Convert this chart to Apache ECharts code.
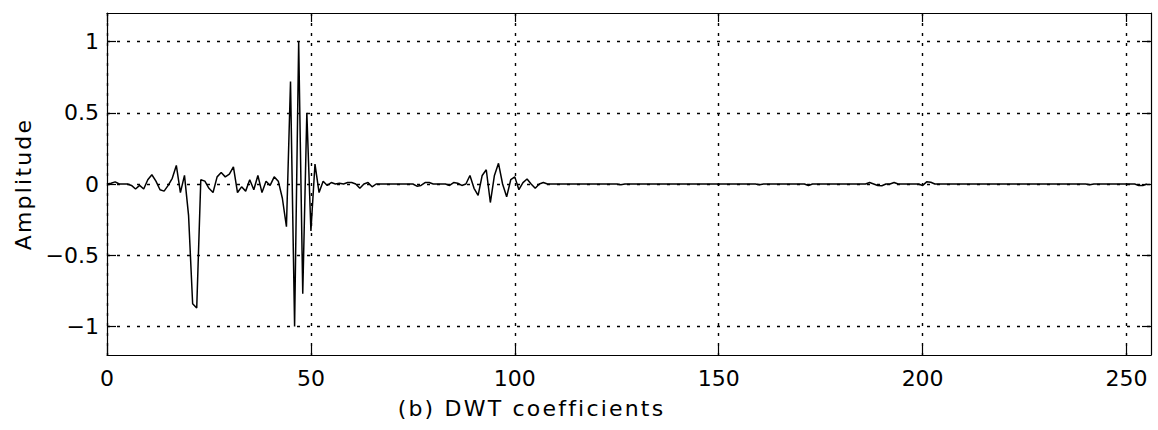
<!DOCTYPE html>
<html><head><meta charset="utf-8">
<script src="https://cdn.jsdelivr.net/npm/echarts@6/dist/echarts.min.js"></script>
<style>
html,body{margin:0;padding:0;background:#fff;}
#chart{width:1158px;height:430px;}
#chart svg text[style*="sans-serif"]{letter-spacing:2.2px;}
</style></head><body><div id="chart"></div>
<script>
// DWT coefficient amplitudes, index 0..255
const amplitude = [
  0, 0.005, 0.015, 0, 0, 0, -0.01, -0.035, -0.01, -0.035, 0.03, 0.065, 0.02, -0.04, -0.05, -0.01,
  0.04, 0.13, -0.06, 0.06, -0.22, -0.84, -0.87, 0.03, 0.02, -0.03, -0.06, 0.05, 0.08, 0.05, 0.07, 0.12,
  -0.06, -0.02, -0.05, 0.03, -0.04, 0.06, -0.06, 0.02, -0.01, 0.05, 0.02, -0.1, -0.3, 0.72, -1.0, 1.0,
  -0.77, 0.5, -0.33, 0.14, -0.06, 0.02, -0.01, 0.01, 0, 0.005, 0, 0.01, 0.01, 0, -0.03, 0,
  0.01, -0.02, 0, 0, 0, 0, 0, 0, 0, 0, 0, 0, -0.015, -0.01, 0.01, 0.01,
  0, 0, 0, 0, -0.01, 0.01, 0.005, -0.01, 0, 0.06, -0.03, -0.08, 0.06, 0.1, -0.13, 0.06,
  0.145, 0, -0.09, 0.03, 0.05, -0.04, 0.01, 0.035, 0, -0.03, 0, 0.01, 0, 0, 0, 0,
  0, 0, 0, 0, 0, 0, 0, 0, 0, 0, 0, 0, 0, 0, -0.005, 0,
  0, 0, 0, 0, 0, 0, 0, 0, 0, 0, 0, 0, 0, 0, 0, 0,
  0, 0, 0, 0, 0, 0, 0, 0, 0, 0, 0, 0, 0, 0, 0, 0,
  -0.005, 0, 0, 0, 0, 0, 0, 0, 0, 0, 0, 0, -0.01, 0, 0, 0,
  0, 0, 0, 0, 0, 0, 0, 0, 0, 0, 0, 0.01, 0, -0.01, -0.012, 0,
  0, 0.01, 0, 0, 0, 0, 0, 0, -0.01, 0.015, 0.012, 0, 0, 0, 0, 0,
  0, 0, 0, 0, 0, 0, 0, 0, 0, 0, 0, 0, 0, 0, 0, 0,
  0, 0, 0, 0, 0, 0, 0, 0, 0, 0, 0, 0, 0, 0, 0, 0,
  0, -0.006, 0, 0, 0, 0, 0, 0, 0, 0, 0, 0, 0, -0.01, -0.01, 0
];
const xTickValues = [0, 50, 100, 150, 200, 250];
const xTickLabels = ['0', '50', '100', '150', '200', '250'];
const yTickValues = [-1, -0.5, 0, 0.5, 1];
const yTickLabels = ['\u22121', '\u22120.5', '0', '0.5', '1'];
const xRange = [0, 256];
const yRange = [-1.2, 1.2];
const xTitle = '(b) DWT coefficients';
const yTitle = 'Amplitude';

const seriesData = amplitude.map((v, i) => [i, v]);
const black = '#000';
const tickFont = 'DejaVu Sans';
const nameFont = 'DejaVu Sans, sans-serif';

function labelFor(values, labels) {
  return function (v) {
    for (let k = 0; k < values.length; k++) {
      if (Math.abs(values[k] - v) < 1e-9) return labels[k];
    }
    return '';
  };
}

const frameLine = {show: true, onZero: false, lineStyle: {color: black, width: 1.2}};
function ticks(values) {
  return {show: true, inside: true, length: 9, customValues: values, lineStyle: {color: black, width: 1.2}};
}

const chart = echarts.init(document.getElementById('chart'), null, {renderer: 'svg'});
chart.setOption({
  animation: false,
  backgroundColor: '#fff',
  grid: {left: 107, right: 7, top: 13, bottom: 75, containLabel: false, outerBoundsMode: 'none'},
  xAxis: [{
    type: 'value', position: 'bottom', min: xRange[0], max: xRange[1],
    axisLine: frameLine,
    axisTick: ticks(xTickValues),
    axisLabel: {show: true, customValues: xTickValues, margin: 12, fontSize: 22, fontFamily: tickFont, color: black,
      formatter: labelFor(xTickValues, xTickLabels)},
    splitLine: {show: true, lineStyle: {color: black, width: 1.4, type: [3, 7]}},
    name: xTitle, nameLocation: 'middle', nameGap: 42,
    nameTextStyle: {fontSize: 22, fontFamily: nameFont, color: black, padding: [0, 195, 0, 0]}
  }, {
    type: 'value', position: 'top', min: xRange[0], max: xRange[1],
    axisLine: frameLine,
    axisTick: ticks(xTickValues),
    axisLabel: {show: false},
    splitLine: {show: false}
  }],
  yAxis: [{
    type: 'value', position: 'left', min: yRange[0], max: yRange[1],
    axisLine: frameLine,
    axisTick: ticks(yTickValues),
    axisLabel: {show: true, customValues: yTickValues, margin: 8, fontSize: 22, fontFamily: tickFont, color: black,
      formatter: labelFor(yTickValues, yTickLabels)},
    splitLine: {show: true, lineStyle: {color: black, width: 1.4, type: [3, 7]}},
    name: yTitle, nameLocation: 'middle', nameGap: 72,
    nameTextStyle: {fontSize: 22, fontFamily: nameFont, color: black}
  }, {
    type: 'value', position: 'right', min: yRange[0], max: yRange[1],
    axisLine: frameLine,
    axisTick: ticks(yTickValues),
    axisLabel: {show: false},
    splitLine: {show: false}
  }],
  series: [{
    type: 'line', xAxisIndex: 0, yAxisIndex: 0,
    data: seriesData, showSymbol: false, symbol: 'none',
    lineStyle: {color: black, width: 1.5}, z: 5
  }]
});
</script></body></html>
